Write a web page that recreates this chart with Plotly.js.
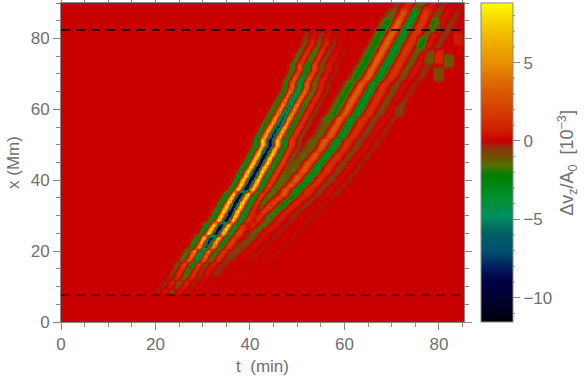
<!DOCTYPE html>
<html><head><meta charset="utf-8">
<script src="https://cdn.plot.ly/plotly-3.0.1.min.js"></script>
<style>html,body{margin:0;padding:0;background:#fff}</style></head>
<body><div id="chart"></div>
<script>
// grid of the picture
const tStep = 0.52, xStep = 1.25, nT = 165, nX = 73;
const tTicks = [0,20,40,60,80], xTicks = [0,20,40,60,80];
const cbVals = [-10,-5,0,5], cbText = ['\u221210','\u22125','0','5'];
const cbMinor = [-11,-9,-8,-7,-6,-4,-3,-2,-1,1,2,3,4,6,7,8];
const zMin = -11.55, zMax = 8.8;
const cbStopVals = [-11.55,-10,-8.9,-8,-7,-5.9,-4.8,-3.7,-2.2,-1.6,-1,-0.43,0,0.75,2.7,4,5,6.4,7.8,8.8];
const cbStopCols = ['#000008','#000030','#000048','#002060','#005070','#006060','#009060','#009030','#008000','#507000','#705000','#903010','#c80000','#d02000','#d85000','#e07000','#e89000','#f0b000','#f8d800','#ffff00'];
const dashX = [82.4, 7.6];

// first wave packet: sections read across the ridges, centre-8 to centre+12
const L100=[.5,-1,-4,-2,3,8.8,4.5,-6,-11.5,-6,4.5,8.8,3,-2,-4,-1.5,1.5,2,1,-.5,-1];
const L90=[.5,-1,-3.7,-1.8,2.7,7.9,4,-5.4,-10.4,-5.4,4,7.9,2.7,-1.8,-3.6,-1.4,1.4,1.8,.9,-.4,-.9];
const L80=[.4,-.8,-3.3,-1.6,2.4,7,3.6,-4.8,-9.2,-4.8,3.6,7,2.4,-1.6,-3.2,-1.2,1.2,1.6,.8,-.4,-.8];
const L70=[.4,-.7,-2.9,-1.4,2.1,6.2,3.2,-4.2,-8,-4.2,3.2,6.2,2.1,-1.4,-2.8,-1,1,1.4,.7,-.3,-.7];
const L60=[.3,-.6,-2.6,-1.2,1.8,5.3,2.7,-3.6,-6.9,-3.6,2.7,5.3,1.8,-1.2,-2.4,-.9,.9,1.2,.6,-.3,-.6];
const L50=[.3,-.5,-2.2,-1,1.5,4.4,2.2,-3,-5.7,-3,2.2,4.4,1.5,-1,-2,-.8,.8,1,.5,-.2,-.5];
const L40=[.2,-.4,-1.8,-.8,1.2,3.5,1.8,-2.4,-4.6,-2.4,1.8,3.5,1.2,-.8,-1.6,-.6,.6,.8,.4,-.2,-.4];
const L30=[.2,-.3,-1.4,-.6,.9,2.6,1.4,-1.8,-3.4,-1.8,1.4,2.6,.9,-.6,-1.2,-.5,.5,.6,.3,-.1,-.3];
const L20=[.1,-.2,-.9,-.4,.6,1.8,.9,-1.2,-2.3,-1.2,.9,1.8,.6,-.4,-.8,-.3,.3,.4,.2,-.1,-.2];
const L12=[.1,-.1,-.5,-.2,.4,1.1,.5,-.7,-1.4,-.7,.5,1.1,.4,-.2,-.5,-.2,.2,.2,.1,0,-.1];
const L6=[0,-.1,-.3,-.1,.2,.5,.3,-.4,-.7,-.4,.3,.5,.2,-.1,-.2,-.1,.1,.1,.1,0,0];
const H50=[.3,-.6,-3,-1.2,1.5,4.4,2.2,-3,-5.7,-3,2.2,4.4,1.5,-1,-2,-.8,.8,1,.5,-.2,-.5];
const H40=[.3,-.6,-2.8,-1.1,1.2,3.5,1.8,-2.4,-4.6,-2.4,1.8,3.5,1.2,-.8,-1.6,-.6,.6,.8,.4,-.2,-.4];
const H30=[.2,-.5,-2.4,-1,.9,2.6,1.4,-1.8,-3.4,-1.8,1.4,2.6,.9,-.6,-1.2,-.5,.5,.6,.3,-.1,-.3];
const H20=[.1,-.4,-2,-.8,.6,1.8,.9,-1.2,-2.3,-1.2,.9,1.8,.6,-.4,-.8,-.3,.3,.4,.2,-.1,-.2];
const H12=[.1,-.3,-1.2,-.5,.4,1.1,.5,-.7,-1.4,-.7,.5,1.1,.4,-.2,-.5,-.2,.2,.2,.1,0,-.1];
const H6=[0,-.2,-.6,-.3,.2,.5,.3,-.4,-.7,-.4,.3,.5,.2,-.1,-.2,-.1,.1,.1,.1,0,0];
const p1FirstRow = 7, p1Back = 8;
const p1Center = [45,47,48,50,51,52,53,55,56,57,59,60,61,63,64,65,67,68,69,70,71,72,73,75,76,77,78,79,80,81,82,83,84,85,85,86,87,88,89,90,91,92,93,94,95,96,97,97,98,99,100,100,101,102,103,104,105,105,106];
const p1Rows = [L6,L6,L12,L12,L20,L20,L30,L40,L50,L60,L70,L80,L90,
 L100,L100,L100,L100,L100,L100,L100,L100,L100,L100,L100,L100,L100,L100,L100,L100,
 L100,L100,L100,L90,L90,L90,L80,L80,L80,L70,L70,L60,L60,L60,H50,H50,H50,H40,H40,H40,H30,H30,H30,H20,H20,H20,H12,H12,H6,H6];

// second wave packet: sections, centre-12 to centre+18
const M100=[-.3,-.7,-1.2,-1.4,-1.1,-.2,1.6,3.2,3,1.3,-.4,-2.6,-3.8,-3.4,-1.2,.4,1.2,1.4,1,.3,-.3,-.7,-.7,-.3,.2,.3,.2,0,-.2,-.3,-.2];
const P100=[-.5,-1.2,-2,-2.3,-1.7,-.4,1.8,3.4,3,1.3,-.4,-2.6,-3.8,-3.4,-1.2,.4,1.2,1.5,1.1,.4,-.3,-.8,-.9,-.4,.2,.3,.2,0,-.2,-.4,-.2];
const M90=[-.3,-.6,-1.1,-1.3,-1,-.2,1.4,2.9,2.7,1.2,-.4,-2.3,-3.4,-3.1,-1.1,.4,1.1,1.3,.9,.3,-.3,-.6,-.6,-.3,.2,.3,.2,0,-.2,-.3,-.2];
const M75=[-.2,-.5,-.9,-1,-.8,-.2,1.2,2.4,2.2,1,-.3,-2,-2.8,-2.5,-.9,.3,.9,1,.7,.2,-.2,-.5,-.5,-.2,.1,.2,.1,0,-.1,-.2,-.1];
const M60=[-.2,-.4,-.7,-.8,-.7,-.1,1,1.9,1.8,.8,-.2,-1.6,-2.3,-2,-.7,.2,.7,.8,.6,.2,-.2,-.4,-.4,-.2,.1,.2,.1,0,-.1,-.2,-.1];
const M45=[-.1,-.3,-.5,-.6,-.5,-.1,.7,1.4,1.3,.6,-.2,-1.2,-1.7,-1.5,-.5,.2,.5,.6,.5,.1,-.1,-.3,-.3,-.1,.1,.1,.1,0,-.1,-.1,-.1];
const M30=[-.1,-.2,-.4,-.4,-.3,-.1,.5,1,.9,.4,-.1,-.8,-1.1,-1,-.4,.1,.4,.4,.3,.1,-.1,-.2,-.2,-.1,0,.1,.1,0,0,-.1,-.1];
const M18=[-.1,-.3,-.5,-.5,-.4,-.1,.4,.6,.6,.3,-.1,-.5,-.7,-.6,-.4,0,.2,.3,.2,.1,-.1,-.2,-.2,-.1,0,.1,.1,0,-.1,-.1,-.1];
const M8=[0,-.1,-.2,-.2,-.2,0,.2,.3,.3,.1,-.1,-.2,-.3,-.3,-.2,0,.1,.1,.1,0,0,-.1,-.1,0,0,0,0,0,0,0,0];
const T1=[-.4,-1.3,-2.3,-2.6,-2,-.4,2,3.6,3.2,1.5,-.4,-2.6,-3.8,-3.4,-1.2,.4,1.3,1.7,1.4,.6,-.3,-1,-1.2,-.5,.3,.6,.3,0,-.3,-.6,-.4];
const T2=[-.2,-.6,-1.2,-1.4,-1,0,1.4,2.6,2.6,1.2,-.6,-2.8,-3.8,-3.4,-1.4,.2,1,1.3,1,.4,-.3,-.8,-.9,-.4,.2,.4,.2,0,-.2,-.4,-.3];
const T3=[0,-.2,-.4,-.5,-.3,0,.6,1,1,.5,-.4,-1.2,-1.6,-1.5,-.8,0,.5,.6,.5,.2,-.1,-.4,-.4,-.2,.1,.2,.1,0,-.1,-.2,-.1];
const p2FirstRow = 11, p2Back = 12;
const p2Center = [63,64,66,68,69,71,73,75,77,78,80,82,84,85,87,89,91,93,95,96,98,100,101,103,104,105,107,108,110,111,112,114,115,116,117,118,120,121,122,123,124,125,126,127,129,130,131,132,133,134,135,136,137,138,139,140,141,142,143,144,145,146];
const p2Rows = [M8,M8,M8,M8,M18,M18,M18,M30,M30,M30,M45,M45,M45,M60,M60,M75,M75,M75,M90,M90,
 M100,M100,M100,M100,M100,M100,M100,M100,M100,M100,M100,M100,M100,M100,M100,
 P100,P100,P100,P100,P100,P100,P100,P100,P100,P100,
 T1,T1,T1,T1,T1,T1,T1,T1,T1,T1,T1,T1,T1,T2,T2,T3,T3];

// faint blobs of the crossing pattern, top right
const blobT = [76.5,79.7,82.2,80,78,80,76.5,84,72];
const blobX = [79,84,73.8,69.6,74.6,75,87,80,60];
const blobV = [-1.1,-1.1,-1.1,-.9,-.8,1,.8,.6,-.4];

const tCells = Array.from({length:nT},(_,i)=>i*tStep);
const xCells = Array.from({length:nX},(_,j)=>j*xStep);
const z = xCells.map(()=>tCells.map(()=>0));
function put(rows, centers, first, back){
  rows.forEach((row,r)=>row.forEach((v,k)=>{
    const i = centers[r]-back+k, j = first+r;
    if(j<nX && i>=0 && i<nT) z[j][i]+=v;
  }));
}
put(p1Rows,p1Center,p1FirstRow,p1Back);
put(p2Rows,p2Center,p2FirstRow,p2Back);
blobT.forEach((t,b)=>{
  const i0=Math.round(t/tStep)-2, j0=Math.round(blobX[b]/xStep)-1;
  for(let j=j0;j<j0+3;j++)for(let i=i0;i<i0+4;i++) if(j<nX&&i<nT) z[j][i]+=blobV[b];
});

const colorscale = cbStopVals.map((v,n)=>[(v-zMin)/(zMax-zMin),cbStopCols[n]]);
const ink='#707070', fnt={family:'Liberation Sans, sans-serif',size:17,color:ink};
const W=585,H=376,L=61,R=464.5,T=3,B=322;
const pw=R-L, ph=B-T;
const cbY=v=>(v-zMin)/(zMax-zMin);
const cbRight=(512-L)/pw;
const shapes=cbMinor.map(v=>({type:'line',xref:'paper',yref:'paper',x0:cbRight,x1:cbRight+3.5/pw,y0:cbY(v),y1:cbY(v),line:{color:'#888',width:1}}));
const axis={showgrid:false,zeroline:false,showline:true,linecolor:'#888',linewidth:1,mirror:'allticks',ticks:'outside',ticklen:7,tickcolor:'#888',tickwidth:1,tickfont:fnt,
  minor:{dtick:5,ticks:'outside',ticklen:4,tickcolor:'#888',tickwidth:1,showgrid:false}};
const traces=[
 {type:'heatmap',x:tCells,y:xCells,z:z,zmin:zMin,zmax:zMax,colorscale:colorscale,zsmooth:'best',hoverinfo:'skip',
  colorbar:{x:(481.5-L)/pw,xanchor:'left',xpad:0,ypad:0,y:0.5,yanchor:'middle',len:1,lenmode:'fraction',thickness:32,thicknessmode:'pixels',
    outlinecolor:'#888',outlinewidth:1,tickmode:'array',tickvals:cbVals,ticktext:cbText,ticks:'outside',ticklen:7,tickcolor:'#888',tickfont:fnt}},
 {type:'scatter',mode:'lines',x:[0,85.3],y:[dashX[0],dashX[0]],line:{color:'#000',width:1.6,dash:'9px,6px'},showlegend:false,hoverinfo:'skip'},
 {type:'scatter',mode:'lines',x:[0,85.3],y:[dashX[1],dashX[1]],line:{color:'#000',width:1,dash:'9px,6px'},showlegend:false,hoverinfo:'skip'}
];
const layout={width:W,height:H,margin:{l:L,r:W-R,t:T,b:H-B,pad:0},paper_bgcolor:'#fff',plot_bgcolor:'#c80000',showlegend:false,font:fnt,
 xaxis:Object.assign({},axis,{range:[0,85.3],tickmode:'array',tickvals:tTicks,title:{text:'t  (min)',font:fnt,standoff:6}}),
 yaxis:Object.assign({},axis,{range:[0,90],tickmode:'array',tickvals:xTicks,title:{text:'x (Mm)',font:fnt,standoff:6}}),
 shapes:shapes,
 annotations:[{xref:'paper',yref:'paper',x:(568-L)/pw,y:0.5,xanchor:'center',yanchor:'middle',textangle:-90,showarrow:false,
   text:'\u0394v<sub>z</sub>/A<sub>0</sub>  [10<sup>\u22123</sup>]',font:{family:fnt.family,size:18,color:ink}}]};
Plotly.newPlot('chart',traces,layout,{displayModeBar:false,staticPlot:true});
</script></body></html>
